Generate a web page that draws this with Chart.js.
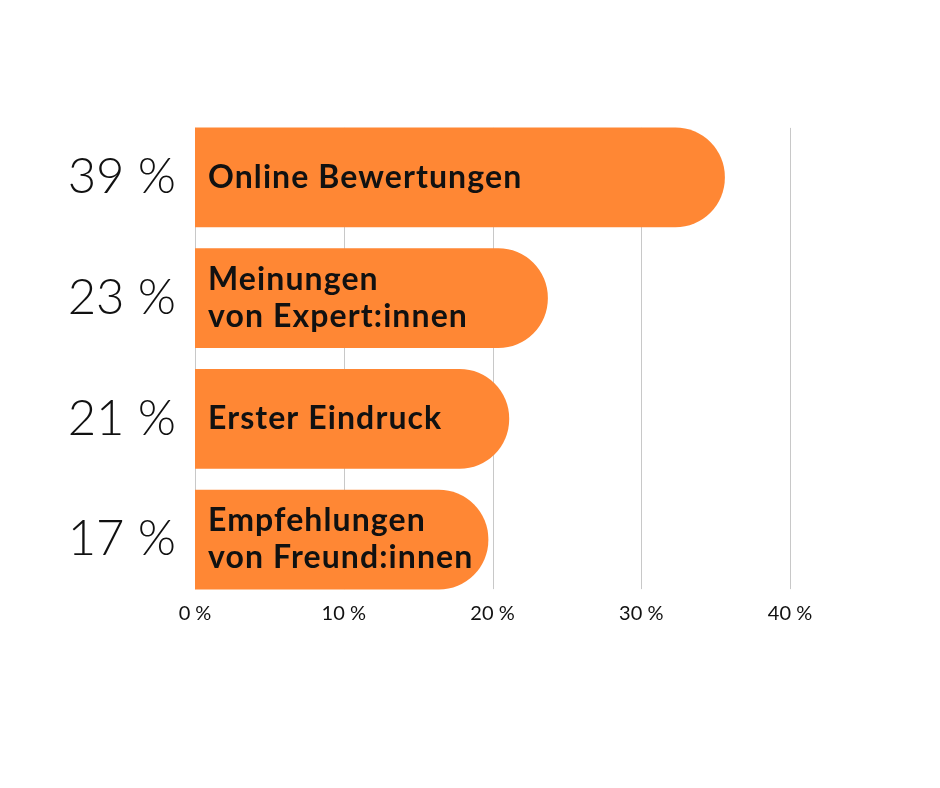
<!DOCTYPE html>
<html>
<head>
<meta charset="utf-8">
<script src="https://cdn.jsdelivr.net/npm/chart.js@4"></script>
<style>
html,body{margin:0;padding:0;background:#fff;}
#wrap{width:940px;height:788px;}
</style>
</head>
<body>
<div id="wrap"><canvas id="c" width="940" height="788"></canvas></div>
<script>
const categories = ["Online Bewertungen", ["Meinungen", "von Expert:innen"], "Erster Eindruck", ["Empfehlungen", "von Freund:innen"]];
const shareLabels = ["39 %", "23 %", "21 %", "17 %"];
const barValues = [35.6, 23.7, 21.1, 19.7];
const xTicks = [0, 10, 20, 30, 40];

const ORANGE = '#FF8734';
const FONT = 'Lato, "Open Sans", sans-serif';

const gridPlugin = {
  id: 'barGrid',
  beforeDatasetsDraw(chart) {
    const meta = chart.getDatasetMeta(0);
    const first = meta.data[0], last = meta.data[meta.data.length - 1];
    const top = first.y - first.height / 2;
    const bottom = last.y + last.height / 2;
    const xs = chart.scales.x;
    const ctx = chart.ctx;
    ctx.save();
    ctx.strokeStyle = '#c8c8c8';
    ctx.lineWidth = 1;
    xTicks.forEach(v => {
      const px = Math.round(xs.getPixelForValue(v)) + 0.5;
      ctx.beginPath();
      ctx.moveTo(px, top);
      ctx.lineTo(px, bottom);
      ctx.stroke();
    });
    ctx.restore();
  }
};

const labelPlugin = {
  id: 'barLabels',
  afterDatasetsDraw(chart) {
    const meta = chart.getDatasetMeta(0);
    const ctx = chart.ctx;
    const xs = chart.scales.x;
    ctx.save();
    ctx.fillStyle = '#111';
    ctx.font = '700 32px ' + FONT;
    try { ctx.letterSpacing = '1.1px'; } catch (e) {}
    ctx.textBaseline = 'middle';
    ctx.textAlign = 'left';
    const lh = 37;
    meta.data.forEach((bar, i) => {
      const lines = Array.isArray(categories[i]) ? categories[i] : [categories[i]];
      const x0 = xs.getPixelForValue(0) + 13;
      const startY = bar.y - (lines.length - 1) * lh / 2;
      lines.forEach((ln, j) => ctx.fillText(ln, x0, startY + j * lh));
    });
    ctx.restore();
  }
};

new Chart(document.getElementById('c'), {
  type: 'bar',
  data: {
    labels: shareLabels,
    datasets: [{
      data: barValues,
      backgroundColor: ORANGE,
      borderWidth: 0,
      borderSkipped: 'start',
      borderRadius: {topLeft: 0, bottomLeft: 0, topRight: 50, bottomRight: 50},
      barThickness: 99
    }]
  },
  options: {
    indexAxis: 'y',
    responsive: false,
    animation: false,
    devicePixelRatio: 1,
    layout: {padding: {top: 117, right: 150, bottom: 158, left: 10}},
    plugins: {legend: {display: false}, tooltip: {enabled: false}},
    scales: {
      x: {
        min: 0, max: 40,
        afterBuildTicks(scale) { scale.ticks = xTicks.map(v => ({value: v})); },
        afterFit(scale) { scale.height = 30; },
        grid: {display: false, drawTicks: false},
        border: {display: false},
        ticks: {
          padding: 2,
          color: '#111',
          font: {family: FONT, size: 20, weight: 400},
          callback: v => v + ' %'
        }
      },
      y: {
        afterFit(scale) { scale.width = 185; },
        grid: {display: false, drawTicks: false},
        border: {display: false},
        ticks: {
          padding: 19,
          color: '#111',
          font: {family: FONT, size: 49, weight: 300}
        }
      }
    }
  },
  plugins: [gridPlugin, labelPlugin]
});
</script>
</body>
</html>
